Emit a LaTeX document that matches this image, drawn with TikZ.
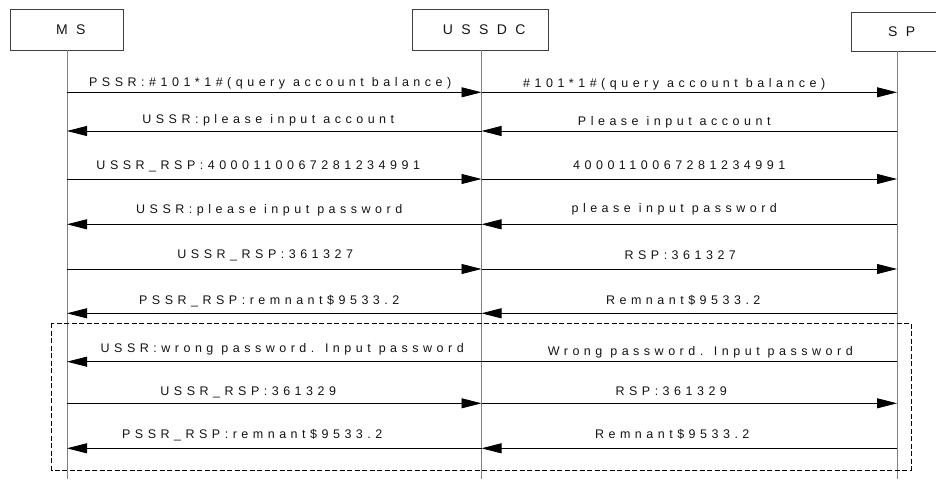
\documentclass[tikz,border=0pt]{standalone}
\usepackage{fontspec}
\setmainfont{Liberation Sans}
\newfontfamily\msgfont[LetterSpace=36]{Liberation Sans}
\newfontfamily\boxfont[LetterSpace=60]{Liberation Sans}
\usetikzlibrary{arrows.meta}
\definecolor{lifegray}{HTML}{808080}
\definecolor{boxgray}{HTML}{404040}
\definecolor{txt}{HTML}{141414}
\begin{document}
\begin{tikzpicture}[x=1pt,y=-1pt,
  actor/.style={draw=boxgray, line width=0.8pt, inner sep=0pt, text=txt,
    font=\fontsize{14}{14}\boxfont, execute at begin node={\kern8.4pt}},
  life/.style={draw=lifegray, line width=0.9pt},
  msg/.style={draw=black, line width=0.8pt},
  tip/.style={-{Triangle[length=20pt,width=10pt]}},
  lbl/.style={anchor=base, inner sep=0pt, text=txt,
    font=\fontsize{12.5}{12.5}\msgfont, execute at begin node={\kern4.5pt}},
  grp/.style={draw=black, line width=1pt, dash pattern=on 5pt off 2.5pt},
]
\useasboundingbox (0,0) rectangle (936,479);

% actors
\node[actor, minimum width=113pt, minimum height=41pt] (MS) at (66.5,29.5) {MS};
\node[actor, minimum width=136pt, minimum height=41pt] (USSDC) at (480,29.5) {USSDC};
\node[actor, minimum width=93pt, minimum height=39pt] (SP) at (897.5,31.5) {SP};

% lifelines
\coordinate (msT) at (67,50);   \coordinate (msB) at (67,479);
\coordinate (usT) at (481.5,50); \coordinate (usB) at (481.5,479);
\coordinate (spT) at (897,51);  \coordinate (spB) at (897,479);
\draw[life] (msT) -- (msB);
\draw[life] (usT) -- (usB);
\draw[life] (spT) -- (spB);

% message anchor points on lifelines
\foreach \i/\y in {1/92.3,2/131,3/179,4/224.3,5/269,6/313.3,7/361.7,8/403.3,9/448.3}{
  \coordinate (m\i) at (67,\y);
  \coordinate (u\i) at (481.5,\y);
  \coordinate (s\i) at (897,\y);
}

% group box
\coordinate (g1) at (51.7,323);
\coordinate (g2) at (911,470);
\draw[grp] (g1) rectangle (g2);

% messages
\draw[msg,tip] (m1) -- (u1);
\draw[msg,tip] (u1) -- (s1);
\draw[msg,tip] (u2) -- (m2);
\draw[msg,tip] (s2) -- (u2);
\draw[msg,tip] (m3) -- (u3);
\draw[msg,tip] (u3) -- (s3);
\draw[msg,tip] (u4) -- (m4);
\draw[msg,tip] (s4) -- (u4);
\draw[msg,tip] (m5) -- (u5);
\draw[msg,tip] (u5) -- (s5);
\draw[msg,tip] (u6) -- (m6);
\draw[msg,tip] (s6) -- (u6);
\draw[msg,tip] (u7) -- (m7);
\draw[msg] (s7) -- (u7);
\draw[msg,tip] (m8) -- (u8);
\draw[msg,tip] (u8) -- (s8);
\draw[msg,tip] (u9) -- (m9);
\draw[msg,tip] (s9) -- (u9);

% labels
\node[lbl] (l1) at (268,86) {PSSR:\#101*1\#(query account balance)};
\node[lbl] (r1) at (672,87) {\#101*1\#(query account balance)};
\node[lbl] (l2) at (266,123) {USSR:please input account};
\node[lbl] (r2) at (672,125) {Please input account};
\node[lbl] (l3) at (256,169) {USSR\_RSP:4000110067281234991};
\node[lbl] (r3) at (677,169) {4000110067281234991};
\node[lbl] (l4) at (267,213.5) {USSR:please input password};
\node[lbl] (r4) at (672,212) {please input password};
\node[lbl] (l5) at (263,258) {USSR\_RSP:361327};
\node[lbl] (r5) at (678,259) {RSP:361327};
\node[lbl] (l6) at (267,304) {PSSR\_RSP:remnant\$9533.2};
\node[lbl] (r6) at (681,304) {Remnant\$9533.2};
\node[lbl] (l7) at (280,352.5) {USSR:wrong password. Input password};
\node[lbl] (r7) at (698,355) {Wrong password. Input password};
\node[lbl] (l8) at (246,395) {USSR\_RSP:361329};
\node[lbl] (r8) at (669,395.5) {RSP:361329};
\node[lbl] (l9) at (250,438.3) {PSSR\_RSP:remnant\$9533.2};
\node[lbl] (r9) at (670,438.3) {Remnant\$9533.2};
\end{tikzpicture}
\end{document}
